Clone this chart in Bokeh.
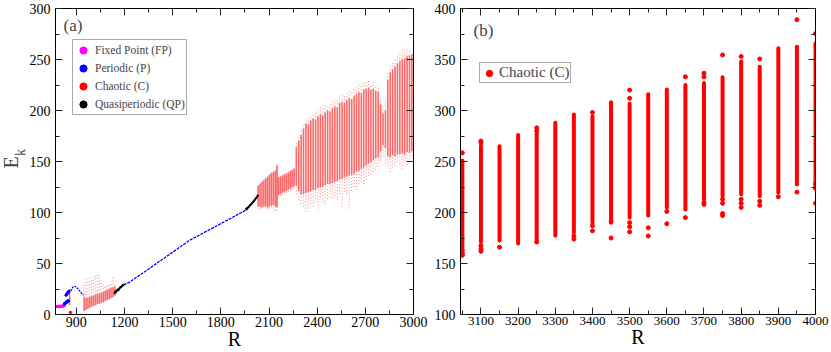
from math import pi
from bokeh.plotting import figure
from bokeh.layouts import row
from bokeh.models import (ColumnDataSource, Range1d, LinearAxis, SingleIntervalTicker,
                          Label, Legend, LegendItem)
from bokeh.embed import file_html
from bokeh.resources import INLINE

FONT = "Liberation Serif"

# ---------------- Panel (a) data ----------------
# Fixed point branch
fp_R = [770, 778, 786, 794, 802, 810, 816, 821, 825]
fp_E = [7.8, 7.8, 7.9, 8.0, 8.0, 8.1, 8.3, 8.6, 9.0]

# Periodic: early scattered points, hump, long branch
p1_R = [826, 830, 834, 838, 842, 846, 850, 836, 842, 848, 852]
p1_E = [10.5, 11.0, 11.5, 12.0, 12.5, 13.0, 13.5, 19.0, 20.5, 21.5, 22.5]
p2_R = [866, 872, 878, 884, 890, 896, 902, 908, 914, 920, 926, 932, 938, 944]
p2_E = [23.0, 25.5, 26.8, 27.4, 27.6, 27.2, 26.5, 25.5, 24.5, 23.3, 22.0, 21.0, 20.0, 19.0]
p3_R = [1195, 1210, 1231, 1250, 1275, 1300, 1330, 1366, 1400, 1450, 1500, 1559, 1600,
        1650, 1700, 1750, 1800, 1850, 1900, 1950, 1968]
p3_E = [29.0, 30.2, 31.7, 33.8, 36.5, 39.2, 42.4, 46.4, 50.1, 55.7, 61.1, 67.6, 72.3,
        76.5, 80.7, 84.9, 89.1, 93.3, 97.6, 101.8, 103.3]

# Quasiperiodic
q1_R = [1138, 1143, 1148, 1153, 1158, 1163, 1168, 1173, 1178, 1183, 1188, 1193]
q1_E = [21.0, 22.5, 22.0, 23.5, 24.5, 24.0, 25.5, 26.5, 27.0, 27.5, 28.5, 29.0]
q2_R = [1958, 1964, 1970, 1976, 1982, 1988, 1994, 2000, 2006, 2012, 2018, 2024, 2030]
q2_E = [103.5, 104.3, 105.0, 106.0, 107.2, 108.0, 109.0, 110.3, 111.2, 112.5, 113.8, 115.0, 116.5]

# Chaotic columns: dense range (lo..hi) and sparse range (lo_s..hi_s)
c0_R = [858]
c0_lo = [9.0]
c0_hi = [25.0]
c0_ls = [9.0]
c0_hs = [25.0]

c1_R = [948, 960, 972, 984, 996, 1008, 1020, 1032, 1044, 1056, 1068, 1080, 1092, 1104, 1116, 1128, 1140]
c1_lo = [3.5, 4.5, 5.5, 6.5, 7.5, 8.5, 9.0, 10.0, 10.5, 11.5, 12.0, 13.0, 14.0, 15.0, 16.0, 17.0, 18.5]
c1_hi = [17.0, 16.0, 16.5, 17.5, 18.0, 18.5, 19.5, 20.0, 20.5, 21.0, 22.0, 23.0, 24.0, 25.0, 26.0, 26.5, 27.5]
c1_ls = [3.5, 4.5, 5.5, 6.5, 7.5, 8.5, 9.0, 10.0, 10.5, 11.5, 12.0, 13.0, 14.0, 15.0, 16.0, 17.0, 18.5]
c1_hs = [32.0, 35.0, 33.0, 36.0, 34.0, 37.0, 38.0, 40.5, 40.0, 33.0, 30.0, 27.0, 28.0, 29.0, 30.0, 38.0, 30.0]

c2_R = [2032, 2044, 2056, 2068, 2080, 2092, 2104, 2116, 2128, 2140, 2150]
c2_lo = [106, 105.5, 105, 106, 106, 105, 106, 106.5, 107, 106, 105]
c2_hi = [126, 128, 130, 131.5, 133, 135, 137, 138.5, 139.5, 141, 146]
c2_ls = [104, 103, 104, 105, 104, 103, 104, 105, 101, 102, 102]
c2_hs = [127, 129, 131, 132.5, 134, 136, 138, 139.5, 141, 143, 147]

c3_R = [2160, 2172, 2184, 2196, 2208, 2220, 2232, 2244, 2256]
c3_lo = [117, 118, 119, 120, 121, 122, 123, 124.5, 125.5]
c3_hi = [134, 135, 136, 137, 138, 139, 140.5, 141.5, 143]
c3_ls = [115, 116, 117, 118, 119, 120, 121, 122.5, 123.5]
c3_hs = [135, 136, 137, 138, 139, 140, 141.5, 142.5, 144]

c4_R = [2270, 2285, 2300, 2315, 2330, 2345, 2360, 2375, 2390, 2405, 2420, 2435, 2450,
        2465, 2480, 2495, 2510, 2525, 2540, 2555, 2570, 2585, 2600, 2615, 2630, 2645,
        2660, 2675, 2690, 2705, 2720, 2735, 2750, 2765, 2780, 2795, 2810, 2825, 2840,
        2855, 2870, 2885, 2900, 2915, 2930, 2945, 2960, 2975, 2990]
c4_hi = [164, 170, 176, 182, 187, 186, 190, 192, 191, 194, 196, 195, 198,
         200, 199, 202, 204, 203, 207, 208, 207, 210, 212, 211, 214, 216,
         218, 217, 220, 221, 222, 220, 221, 219, 218, 206, 197, 200, 230,
         237, 240, 243, 246, 248, 250, 251, 253, 254, 255]
c4_lo = [126, 121, 118, 118, 119, 120, 121, 122, 122, 124, 125, 125, 127,
         128, 128, 129, 130, 131, 132, 133, 134, 135, 136, 137, 138, 140,
         141, 143, 144, 146, 148, 149, 151, 153, 154, 160, 166, 163, 155,
         154, 156, 155, 157, 157, 158, 157, 159, 158, 160]
c4_ls = [118, 112, 108, 106, 101, 104, 108, 106, 110, 104, 112, 110, 108,
         113, 115, 114, 116, 112, 118, 106, 120, 118, 104, 121, 125, 122,
         128, 130, 128, 132, 136, 138, 140, 142, 145, 150, 155, 148, 146,
         140, 144, 146, 150, 148, 143, 150, 147, 152, 153]
c4_hs = [168, 175, 182, 188, 192, 194, 196, 197, 199, 201, 203, 202, 205,
         206, 207, 209, 211, 210, 213, 215, 214, 217, 219, 218, 221, 223,
         225, 224, 227, 228, 230, 226, 228, 225, 224, 212, 206, 212, 238,
         244, 247, 250, 254, 256, 262, 258, 261, 260, 258]

c_dot_R = [863]
c_dot_E = [2.0]

# ---------------- Panel (b) data ----------------
b_R = [3050, 3100, 3150, 3200, 3250, 3300, 3350, 3400, 3450, 3500,
       3550, 3600, 3650, 3700, 3750, 3800, 3850, 3900, 3950, 4000]
b_lo = [166, 171, 172.5, 169.5, 172.5, 177.5, 180.5, 190, 190, 195,
        197, 205, 203, 213, 216, 218, 216, 219.5, 227.5, 223]
b_hi = [251, 265.5, 265, 276, 278, 288, 296, 294, 308, 306.5,
        316, 320.5, 325, 327, 332.5, 348, 343, 361, 362.5, 366]
b_out_R = [3050, 3050, 3050, 3050, 3100, 3100, 3100, 3100, 3100, 3150,
           3250, 3250, 3250, 3350, 3350, 3400, 3400, 3400, 3450, 3450,
           3500, 3500, 3500, 3500, 3500, 3550, 3550, 3600, 3600, 3650, 3650,
           3700, 3700, 3700, 3700, 3750, 3750, 3750, 3750, 3750,
           3800, 3800, 3800, 3800, 3850, 3850, 3850, 3900, 3950, 3950,
           4000, 4000, 4000, 4000]
b_out_E = [258.5, 163, 160, 158, 270, 268.5, 167.5, 164.5, 162, 166,
           283, 280, 171, 174, 177, 298, 187, 182, 175, 191,
           320, 312, 190, 186, 181, 185, 177, 201, 189, 333, 195,
           336.5, 333, 210, 208, 354.5, 213, 209, 199, 197,
           353, 213, 209, 205, 350.5, 211, 207, 215.5, 389, 220,
           375.5, 228, 224, 209]


def style(p, xint, yint, xlab_size="14px"):
    p.xgrid.visible = False
    p.ygrid.visible = False
    p.outline_line_color = "black"
    p.outline_line_width = 1
    p.background_fill_color = "white"
    for ax, interval, size, so in ((p.xaxis[0], xint, xlab_size, 2), (p.yaxis[0], yint, "14px", 5)):
        ax.ticker = SingleIntervalTicker(interval=interval, num_minor_ticks=2)
        ax.major_label_text_font = FONT
        ax.major_label_text_font_size = size
        ax.major_label_text_color = "black"
        ax.major_tick_in = 7
        ax.major_tick_out = 0
        ax.minor_tick_in = 4
        ax.minor_tick_out = 0
        ax.major_tick_line_color = "#222222"
        ax.minor_tick_line_color = "#222222"
        ax.axis_line_color = "black"
        ax.major_label_standoff = so
    xa = p.xaxis[0]
    xa.axis_label = "R"
    xa.axis_label_text_font = FONT
    xa.axis_label_text_font_size = "20px"
    xa.axis_label_text_font_style = "normal"
    xa.axis_label_text_color = "black"
    xa.axis_label_standoff = -2
    for place, interval in (("above", xint), ("right", yint)):
        ax = LinearAxis(ticker=SingleIntervalTicker(interval=interval, num_minor_ticks=2),
                        major_tick_in=7, major_tick_out=0,
                        minor_tick_in=4, minor_tick_out=0, major_label_standoff=0,
                        major_tick_line_color="#222222", minor_tick_line_color="#222222",
                        axis_line_color="black", major_label_text_font_size="1px",
                        major_label_text_color=None)
        p.add_layout(ax, place)


H = 352
LW = 26
FRAME_BOTTOM = 314  # frames of the row are aligned; label strip shares it
# ---------------- narrow strip carrying the y-axis title of (a) ----------------
plab = figure(width=LW, height=H, x_range=Range1d(0, LW), y_range=Range1d(0, H),
              output_backend="svg", toolbar_location=None, min_border=0,
              min_border_left=0, min_border_right=0, min_border_top=0, min_border_bottom=0)
plab.axis.visible = False
plab.xgrid.visible = False
plab.ygrid.visible = False
plab.outline_line_color = None
plab.add_layout(Label(x=10.5, y=FRAME_BOTTOM - 162, x_units="screen", y_units="screen", text="E",
                      angle=pi / 2, text_font=FONT, text_font_size="20px",
                      text_align="center", text_baseline="middle"))
plab.add_layout(Label(x=19.5, y=FRAME_BOTTOM - 152, x_units="screen", y_units="screen", text="k",
                      angle=pi / 2, text_font=FONT, text_font_size="14px",
                      text_align="center", text_baseline="middle"))

# ---------------- Figure (a) ----------------
pa = figure(width=430 - LW, height=H, x_range=Range1d(770, 3000), y_range=Range1d(0, 300),
            output_backend="svg", toolbar_location=None,
            min_border_left=55 - LW, min_border_right=17, min_border_top=8, min_border_bottom=36)
style(pa, 300, 50)

cR = c0_R + c1_R + c2_R + c3_R + c4_R
clo = c0_lo + c1_lo + c2_lo + c3_lo + c4_lo
chi = c0_hi + c1_hi + c2_hi + c3_hi + c4_hi
cls = c0_ls + c1_ls + c2_ls + c3_ls + c4_ls
chs = c0_hs + c1_hs + c2_hs + c3_hs + c4_hs
csrc = ColumnDataSource(dict(R=cR, lo=clo, hi=chi, ls=cls, hs=chs))

pa.segment(x0="R", y0="ls", x1="R", y1="lo", source=csrc, line_color="red",
           line_alpha=0.4, line_width=1.2, line_dash="1 2")
pa.segment(x0="R", y0="hi", x1="R", y1="hs", source=csrc, line_color="red",
           line_alpha=0.4, line_width=1.2, line_dash="1 2")
pa.segment(x0="R", y0="lo", x1="R", y1="hi", source=csrc, line_color="red",
           line_alpha=0.6, line_width=1.6)
r_c = pa.scatter(c_dot_R, c_dot_E, marker="circle", size=2.5, color="red")

pa.line(fp_R, fp_E, line_color="magenta", line_width=1.5)
r_fp = pa.scatter(fp_R, fp_E, marker="circle", size=2.5, color="magenta")
r_p = pa.scatter(p1_R, p1_E, marker="circle", size=2.5, color="blue")
pa.line(p2_R, p2_E, line_color="blue", line_width=1.3, line_dash="2 1")
pa.line(p3_R, p3_E, line_color="blue", line_width=1.3, line_dash="3 1")
r_q = pa.scatter(q1_R, q1_E, marker="circle", size=1.5, color="black")
pa.scatter(q2_R, q2_E, marker="circle", size=1.5, color="black")

leg_a = Legend(items=[LegendItem(label="Fixed Point (FP)", renderers=[r_fp]),
                      LegendItem(label="Periodic (P)", renderers=[r_p]),
                      LegendItem(label="Chaotic (C)", renderers=[r_c]),
                      LegendItem(label="Quasiperiodic (QP)", renderers=[r_q])],
               location=(17, 199), label_text_font=FONT, label_text_font_size="11.5px",
               glyph_width=18, glyph_height=18, label_height=18, label_standoff=3,
               padding=1, spacing=0, margin=0, border_line_color="#555555",
               border_line_width=1)
pa.add_layout(leg_a)

pa.add_layout(Label(x=8, y=299, x_units="screen", y_units="screen", text="(a)",
                    text_font=FONT, text_font_size="17px", text_baseline="top"))

# ---------------- Figure (b) ----------------
pb = figure(width=400, height=H, x_range=Range1d(3045, 4000), y_range=Range1d(100, 400),
            output_backend="svg", toolbar_location=None,
            min_border_left=30, min_border_right=15, min_border_top=8, min_border_bottom=34)
style(pb, 100, 50, xlab_size="13px")

bsrc = ColumnDataSource(dict(R=b_R, lo=b_lo, hi=b_hi))
pb.segment(x0="R", y0="lo", x1="R", y1="hi", source=bsrc, line_color="red",
           line_width=4, line_cap="round")
r_cb = pb.scatter(b_out_R, b_out_E, marker="circle", size=4, color="red")

leg_b = Legend(items=[LegendItem(label="Chaotic (C)", renderers=[r_cb])],
               location=(19, 231), label_text_font=FONT, label_text_font_size="15px",
               glyph_width=16, glyph_height=16, label_height=16, label_standoff=2,
               padding=1, spacing=0, margin=0, border_line_color="#555555",
               border_line_width=1)
pb.add_layout(leg_b)

pb.add_layout(Label(x=13, y=294, x_units="screen", y_units="screen", text="(b)",
                    text_font=FONT, text_font_size="17px", text_baseline="top"))

layout = row(plab, pa, pb)
open("out.html", "w").write(file_html(layout, INLINE))
